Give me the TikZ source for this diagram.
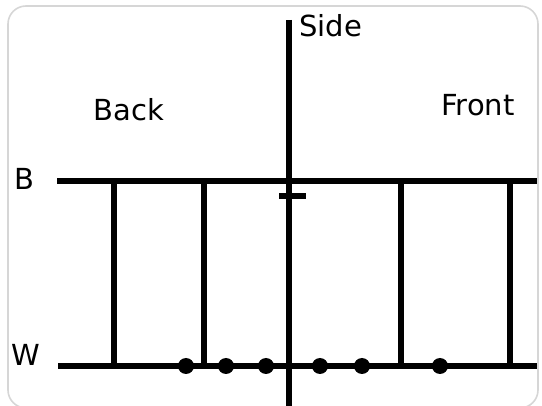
\documentclass[tikz,border=0pt]{standalone}
\usepackage{fontspec}
\setmainfont{DejaVu Sans}
\begin{document}
\begin{tikzpicture}[x=1pt,y=-1pt,
  axisline/.style={line width=5.5pt},
  rung/.style={line width=5.5pt},
  dotmark/.style={circle,fill=black,inner sep=0pt,minimum size=16pt},
  lbl/.style={font=\fontsize{29}{32}\selectfont,inner sep=0pt}]
\useasboundingbox (0,0) rectangle (542,406);
\draw[line width=1.6pt,draw=black!16,rounded corners=18pt] (8,6) rectangle (538,408);
% coordinates
\coordinate (bL) at (57,181);
\coordinate (bR) at (537,181);
\coordinate (wL) at (58,366);
\coordinate (wR) at (537,366);
\coordinate (axT) at (289,20);
\coordinate (axB) at (289,408);
\coordinate (tkL) at (279,196);
\coordinate (tkR) at (306,196);
% lines
\draw[axisline] (bL) -- (bR);
\draw[axisline] (wL) -- (wR);
\draw[axisline] (axT) -- (axB);
\draw[axisline] (tkL) -- (tkR);
\foreach \i/\x in {1/114,2/204,3/401,4/510}{
  \coordinate (rt\i) at (\x,181);
  \coordinate (rb\i) at (\x,366);
  \draw[rung] (rt\i) -- (rb\i);
}
\foreach \i/\x in {1/186,2/226,3/266,4/320,5/362,6/440}{
  \node[dotmark] (d\i) at (\x,366) {};
}
% labels
\node[lbl,anchor=base west] (side) at (299,37) {Side};
\node[lbl,anchor=base] (back) at (129,121) {Back};
\node[lbl,anchor=base] (front) at (478,116) {Front};
\node[lbl,anchor=base] (B) at (24,190) {B};
\node[lbl,anchor=base] (W) at (26,366) {W};
\end{tikzpicture}
\end{document}
